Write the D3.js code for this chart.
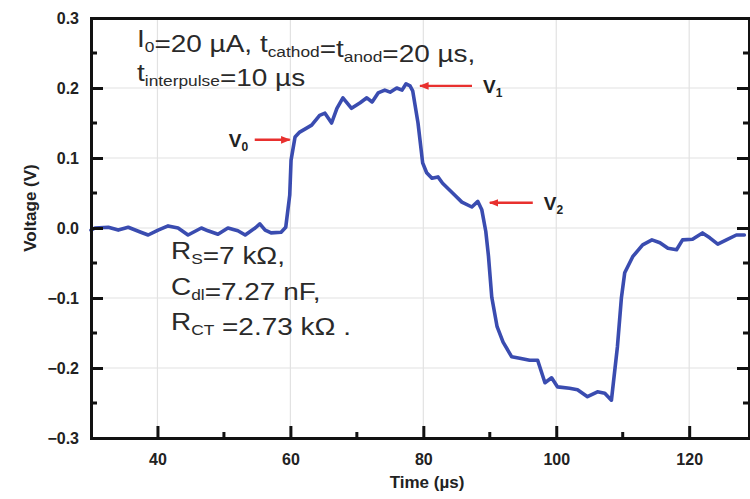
<!DOCTYPE html>
<html>
<head>
<meta charset="utf-8">
<script src="https://cdn.jsdelivr.net/npm/d3@7"></script>
<style>
  body { margin: 0; background: #fff; }
  svg { display: block; font-family: "Liberation Sans", Arial, sans-serif; }
</style>
</head>
<body>
<div id="container"></div>
<script>
// time (µs) and voltage (V)
var times = [30, 30.6, 32.6, 34.1, 35.6, 37.5, 38.6, 40.1, 41.6, 43.1, 44.6, 46.6, 47.6, 49.1, 50.6,
  52.1, 53.2, 54.7, 55.4, 56.2, 57.1, 58.6, 59.3, 59.9, 60.1, 60.7, 61.4, 62.5, 63.2, 64.4, 65.2,
  66.2, 67.0, 67.9, 69.2, 70.5, 71.5, 72.3, 73.2, 74.2, 75.0, 76.0, 76.8, 77.4, 78.0, 78.4, 79.2,
  79.9, 80.5, 81.3, 82.2, 82.9, 84.4, 85.8, 87.3, 88.2, 88.8, 89.4, 89.8, 90.3, 91.1, 92.0, 93.3,
  94.5, 96.0, 97.2, 98.3, 99.3, 100.2, 102.0, 103.2, 104.7, 106.2, 107.3, 108.3, 109.2, 109.8,
  110.3, 111.5, 113.0, 114.4, 115.6, 116.8, 118.1, 119.0, 120.5, 122.0, 123.1, 124.3, 125.6,
  127.1, 128.3];
var volts = [-0.003, 0.0, 0.001, -0.003, 0.001, -0.006, -0.01, -0.003, 0.003, 0.0, -0.01, 0.0, -0.004,
  -0.009, 0.0, -0.004, -0.01, 0.0, 0.006, -0.003, -0.007, -0.006, 0.001, 0.047, 0.097, 0.13, 0.137,
  0.143, 0.147, 0.161, 0.164, 0.15, 0.171, 0.186, 0.171, 0.179, 0.186, 0.18, 0.193, 0.197, 0.194,
  0.2, 0.197, 0.206, 0.203, 0.196, 0.15, 0.093, 0.079, 0.071, 0.073, 0.064, 0.05, 0.037, 0.03,
  0.038, 0.026, -0.005, -0.04, -0.099, -0.141, -0.163, -0.184, -0.186, -0.189, -0.189, -0.221,
  -0.214, -0.227, -0.229, -0.231, -0.241, -0.234, -0.236, -0.246, -0.17, -0.1, -0.064, -0.041,
  -0.024, -0.017, -0.021, -0.029, -0.031, -0.017, -0.016, -0.007, -0.014, -0.023, -0.017, -0.01,
  -0.01];

var xTicks = [40, 60, 80, 100, 120];
var xMinor = [50, 70, 90, 110];
var yTicks = [-0.3, -0.2, -0.1, 0.0, 0.1, 0.2, 0.3];
var yMinor = [-0.25, -0.15, -0.05, 0.05, 0.15, 0.25];

// arrow tips (time, voltage) and labels
var markers = [
  {name: '0', t: 59.9, v: 0.126, side: 'left'},
  {name: '1', t: 79.5, v: 0.203, side: 'right'},
  {name: '2', t: 90.0, v: 0.036, side: 'right'}
];

var width = 750, height = 499;
var margin = {top: 18, right: 1, bottom: 61, left: 91};

var svg = d3.select('#container').append('svg')
  .attr('width', width)
  .attr('height', height);

var x = d3.scaleLinear().domain([30, 129]).range([margin.left, width - margin.right]);
var y = d3.scaleLinear().domain([-0.3, 0.3]).range([height - margin.bottom, margin.top]);

// grid
svg.append('g').selectAll('line')
  .data(xTicks).join('line')
  .attr('x1', d => x(d)).attr('x2', d => x(d))
  .attr('y1', y(0.3)).attr('y2', y(-0.3))
  .attr('stroke', '#e2e2e2').attr('stroke-width', 1.2);
svg.append('g').selectAll('line')
  .data(yTicks.slice(1, -1)).join('line')
  .attr('y1', d => y(d)).attr('y2', d => y(d))
  .attr('x1', x(30)).attr('x2', x(129))
  .attr('stroke', '#e2e2e2').attr('stroke-width', 1.2);

// trace
var pts = times.map((t, i) => [t, volts[i]]);
var line = d3.line().x(d => x(d[0])).y(d => y(d[1]));
svg.append('path')
  .datum(pts)
  .attr('d', line)
  .attr('fill', 'none')
  .attr('stroke', '#3a4cb0')
  .attr('stroke-width', 3.6)
  .attr('stroke-linejoin', 'round')
  .attr('stroke-linecap', 'round');

// axes, ticks inward
var fmt = d3.format('.1f');
var bottomAxis = d3.axisBottom(x).tickValues(xTicks).tickSize(-12).tickPadding(16).tickFormat(d3.format('d'));
var gx = svg.append('g').attr('transform', 'translate(0,' + y(-0.3) + ')').call(bottomAxis);
var leftAxis = d3.axisLeft(y).tickValues(yTicks).tickSize(-12).tickPadding(12).tickFormat(d => fmt(d));
var gy = svg.append('g').attr('transform', 'translate(' + x(30) + ',0)').call(leftAxis);
var gr = svg.append('g').attr('transform', 'translate(' + x(129) + ',0)')
  .call(d3.axisRight(y).tickValues(yTicks).tickSize(-12).tickFormat(''));
var gt = svg.append('g').attr('transform', 'translate(0,' + y(0.3) + ')')
  .call(d3.axisTop(x).tickValues([]).tickSize(0));

[gx, gy, gr, gt].forEach(function(g) {
  g.select('.domain').attr('stroke', '#111').attr('stroke-width', 3);
  g.selectAll('.tick line').attr('stroke', '#111').attr('stroke-width', 3);
  g.selectAll('.tick text')
    .attr('fill', '#222')
    .attr('font-size', 16)
    .attr('font-weight', 'bold')
    .attr('font-family', '"Liberation Sans", Arial, sans-serif');
});

// minor ticks
svg.append('g').selectAll('line').data(xMinor).join('line')
  .attr('x1', d => x(d)).attr('x2', d => x(d))
  .attr('y1', y(-0.3)).attr('y2', y(-0.3) - 6)
  .attr('stroke', '#111').attr('stroke-width', 3);
svg.append('g').selectAll('line').data(yMinor).join('line')
  .attr('y1', d => y(d)).attr('y2', d => y(d))
  .attr('x1', x(30)).attr('x2', x(30) + 6)
  .attr('stroke', '#111').attr('stroke-width', 3);
svg.append('g').selectAll('line').data(yMinor).join('line')
  .attr('y1', d => y(d)).attr('y2', d => y(d))
  .attr('x1', x(129)).attr('x2', x(129) - 6)
  .attr('stroke', '#111').attr('stroke-width', 3);

// axis titles
svg.append('text')
  .attr('x', 427).attr('y', 488)
  .attr('text-anchor', 'middle')
  .attr('font-size', 17).attr('font-weight', 'bold').attr('fill', '#222')
  .text('Time (µs)');
svg.append('text')
  .attr('transform', 'translate(36,208) rotate(-90)')
  .attr('text-anchor', 'middle')
  .attr('font-size', 17).attr('font-weight', 'bold').attr('fill', '#222')
  .text('Voltage (V)');

// annotation text with subscripts, slightly stretched like the original
function richText(xp, yp, parts, size) {
  var t = svg.append('g')
    .attr('transform', 'translate(' + xp + ',' + yp + ') scale(1.165,1)')
    .append('text')
    .attr('font-size', size).attr('fill', '#2a2a2a');
  parts.forEach(function(p) {
    if (p.sub) {
      t.append('tspan').attr('dy', 5).attr('font-size', size * 0.62).text(p.sub);
      t.append('tspan').attr('dy', -5).text('');
    } else {
      t.append('tspan').text(p.s);
    }
  });
  return t;
}

richText(137, 47, [{s: 'I'}, {sub: '0'}, {s: '=20 µA, t'}, {sub: 'cathod'}, {s: '=t'}, {sub: 'anod'}, {s: '=20 µs,'}], 24);
richText(137, 81, [{s: 't'}, {sub: 'interpulse'}, {s: '=10 µs'}], 24);
richText(171, 259, [{s: 'R'}, {sub: 'S'}, {s: '=7 kΩ,'}], 24);
richText(171, 295, [{s: 'C'}, {sub: 'dl'}, {s: '=7.27 nF,'}], 24);
richText(171, 330, [{s: 'R'}, {sub: 'CT'}, {s: ' =2.73 kΩ .'}], 24);

// red arrows and V labels
svg.append('defs').append('marker')
  .attr('id', 'head')
  .attr('viewBox', '0 0 10 10')
  .attr('refX', 9).attr('refY', 5)
  .attr('markerWidth', 4).attr('markerHeight', 4)
  .attr('orient', 'auto-start-reverse')
  .append('path').attr('d', 'M0,1 L10,5 L0,9 z').attr('fill', '#e8302e');

markers.forEach(function(m) {
  var px = x(m.t), py = y(m.v);
  var len = m.name === '1' ? 52 : (m.name === '2' ? 43 : 35);
  var x0 = m.side === 'left' ? px - len : px + len;
  svg.append('line')
    .attr('x1', x0).attr('y1', py).attr('x2', px).attr('y2', py)
    .attr('stroke', '#e8302e').attr('stroke-width', 2.4)
    .attr('marker-end', 'url(#head)');
  var lx = m.side === 'left' ? x0 - 26 : x0 + 11;
  var lab = svg.append('text')
    .attr('x', lx).attr('y', py + 7)
    .attr('font-size', 19).attr('font-weight', 'bold').attr('fill', '#222');
  lab.append('tspan').text('V');
  lab.append('tspan').attr('dy', 4).attr('font-size', 12).text(m.name);
});
</script>
</body>
</html>
